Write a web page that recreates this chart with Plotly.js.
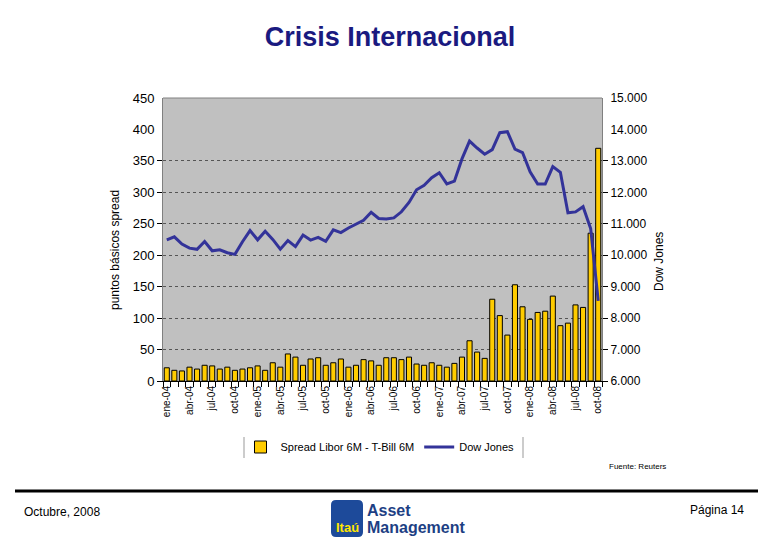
<!DOCTYPE html>
<html><head><meta charset="utf-8">
<script src="https://cdn.plot.ly/plotly-3.0.1.min.js"></script>
<style>html,body{margin:0;padding:0;background:#fff;}#chart{width:780px;height:540px;}</style>
</head><body><div id="chart"></div>
<script>
// Months (categories)
const meses = [
 "ene-04","feb-04","mar-04","abr-04","may-04","jun-04","jul-04","ago-04","sep-04","oct-04","nov-04","dic-04",
 "ene-05","feb-05","mar-05","abr-05","may-05","jun-05","jul-05","ago-05","sep-05","oct-05","nov-05","dic-05",
 "ene-06","feb-06","mar-06","abr-06","may-06","jun-06","jul-06","ago-06","sep-06","oct-06","nov-06","dic-06",
 "ene-07","feb-07","mar-07","abr-07","may-07","jun-07","jul-07","ago-07","sep-07","oct-07","nov-07","dic-07",
 "ene-08","feb-08","mar-08","abr-08","may-08","jun-08","jul-08","ago-08","sep-08","oct-08"
];
// Spread Libor 6M - T-Bill 6M (basis points)
const spread = [
 21,17,16,22,19,25,24,19,22,17,19,21,
 24,17,29,22,43,38,25,35,37,25,29,35,
 22,25,34,32,25,37,37,34,38,27,25,29,
 25,22,28,38,64,46,36,130,104,73,153,118,
 98,109,111,135,88,92,121,117,235,370
];
// Dow Jones
const dowJones = [
 10488,10584,10358,10226,10188,10435,10140,10174,10080,10027,10428,10783,
 10490,10766,10504,10193,10467,10275,10641,10482,10569,10440,10806,10718,
 10865,10993,11109,11367,11168,11150,11186,11381,11679,12081,12221,12463,
 12622,12269,12354,13063,13628,13409,13212,13358,13896,13930,13372,13265,
 12650,12266,12263,12820,12638,11350,11378,11544,10851,8550
];
// Shown x tick labels (every third month)
const xTickText = meses.map((m, i) => (i % 3 === 0 ? m : ""));
const leftGridTicks = [0, 50, 100, 150, 200, 250, 300, 350];
const leftTopTicks = [400, 450];
const rightTicks = [6000, 7000, 8000, 9000, 10000, 11000, 12000, 13000];
const rightTopTicks = [14000, 15000];

// pixel -> paper helpers (plot area 163..602 x, 98..381 y)
const L = 163, R = 602, T = 98, B = 381;
const px = x => (x - L) / (R - L);
const py = y => (B - y) / (B - T);

const FONT = "Liberation Sans, Arial, sans-serif";
const NAVY = "#333399";

const traces = [
  {type: "bar", x: meses, y: spread, name: "Spread Libor 6M - T-Bill 6M",
   marker: {color: "#FFCC00", line: {color: "#000", width: 1}}, yaxis: "y", hoverinfo: "x+y"},
  {type: "scatter", mode: "lines", x: meses, y: dowJones, name: "Dow Jones",
   line: {color: NAVY, width: 3}, yaxis: "y2"},
  {type: "scatter", x: [], y: [], yaxis: "y3", showlegend: false, hoverinfo: "skip"},
  {type: "scatter", x: [], y: [], yaxis: "y4", showlegend: false, hoverinfo: "skip"}
];

// logo rounded square path in paper coords
function roundRect(x0, y0, x1, y1, r) {
  const X = v => px(v).toFixed(5), Y = v => py(v).toFixed(5);
  return `M ${X(x0 + r)},${Y(y0)} L ${X(x1 - r)},${Y(y0)} Q ${X(x1)},${Y(y0)} ${X(x1)},${Y(y0 + r)} ` +
         `L ${X(x1)},${Y(y1 - r)} Q ${X(x1)},${Y(y1)} ${X(x1 - r)},${Y(y1)} L ${X(x0 + r)},${Y(y1)} ` +
         `Q ${X(x0)},${Y(y1)} ${X(x0)},${Y(y1 - r)} L ${X(x0)},${Y(y0 + r)} Q ${X(x0)},${Y(y0)} ${X(x0 + r)},${Y(y0)} Z`;
}

const layout = {
  width: 780, height: 540,
  margin: {l: L, r: 780 - R, t: T, b: 540 - B, pad: 0},
  paper_bgcolor: "#ffffff", plot_bgcolor: "#c0c0c0",
  separators: ",.",
  font: {family: FONT, size: 12, color: "#000"},
  title: {text: "<b>Crisis Internacional</b>", font: {family: FONT, size: 27, color: "#1a1a80"},
          x: 0.5, xref: "container", xanchor: "center", y: 1 - 37 / 540, yref: "container", yanchor: "middle"},
  bargap: 0.33,
  showlegend: true,
  legend: {orientation: "h", x: px(380), xanchor: "center", y: py(447), yanchor: "middle",
           font: {family: FONT, size: 11}, bgcolor: "rgba(0,0,0,0)", itemwidth: 30, traceorder: "normal"},
  xaxis: {type: "category", tickmode: "array", tickvals: meses, ticktext: xTickText,
          tickangle: -90, tickfont: {size: 10}, ticks: "outside", tickson: "boundaries",
          ticklen: 5, tickcolor: "#000", showline: true, linecolor: "#000", linewidth: 1,
          showgrid: false, zeroline: false, range: [-0.5, meses.length - 0.5]},
  yaxis: {range: [0, 450], tickmode: "array", tickvals: leftGridTicks, ticks: "outside", ticklen: 5,
          tickcolor: "#000", showgrid: true, gridcolor: "#555", griddash: "dot", gridwidth: 1,
          zeroline: false, showline: true, linecolor: "#808080", tickfont: {size: 13}},
  yaxis3: {overlaying: "y", side: "left", range: [0, 450], tickmode: "array", tickvals: leftTopTicks,
           ticks: "outside", ticklen: 5, tickcolor: "rgba(0,0,0,0)", showgrid: false, zeroline: false,
           showline: false, tickfont: {size: 13}},
  yaxis2: {overlaying: "y", side: "right", range: [6000, 15000], tickmode: "array", tickvals: rightTicks,
           tickformat: ",d", ticks: "outside", ticklen: 5, tickcolor: "#000", showgrid: false,
           zeroline: false, showline: true, linecolor: "#808080", tickfont: {size: 12}},
  yaxis4: {overlaying: "y", side: "right", range: [6000, 15000], tickmode: "array", tickvals: rightTopTicks,
           tickformat: ",d", ticks: "outside", ticklen: 5, tickcolor: "rgba(0,0,0,0)", showgrid: false,
           zeroline: false, showline: false, tickfont: {size: 12}},
  shapes: [
    {type: "line", xref: "paper", yref: "paper", x0: 0, x1: 1, y0: 1, y1: 1, line: {color: "#808080", width: 1}},
    {type: "line", xref: "paper", yref: "paper", x0: px(244), x1: px(244), y0: py(437), y1: py(458), line: {color: "#999", width: 1}},
    {type: "line", xref: "paper", yref: "paper", x0: px(523), x1: px(523), y0: py(437), y1: py(458), line: {color: "#999", width: 1}},
    {type: "line", xref: "paper", yref: "paper", x0: px(15), x1: px(758), y0: py(491), y1: py(491), line: {color: "#000", width: 3}},
    {type: "path", xref: "paper", yref: "paper", path: roundRect(331, 500, 363, 537, 5),
     fillcolor: "#1d4a9a", line: {width: 0}}
  ],
  annotations: [
    {xref: "paper", yref: "paper", x: px(115), y: py(250), xanchor: "center", yanchor: "middle", textangle: -90,
     text: "puntos básicos spread", showarrow: false, font: {size: 12, family: FONT}},
    {xref: "paper", yref: "paper", x: px(659), y: py(262), xanchor: "center", yanchor: "middle", textangle: -90,
     text: "Dow Jones", showarrow: false, font: {size: 12, family: FONT}},
    {xref: "paper", yref: "paper", x: px(607), y: py(466), xanchor: "left", yanchor: "middle",
     text: "Fuente: Reuters", showarrow: false, font: {size: 8, family: FONT}},
    {xref: "paper", yref: "paper", x: px(22), y: py(512), xanchor: "left", yanchor: "middle",
     text: "Octubre, 2008", showarrow: false, font: {size: 12, family: FONT}},
    {xref: "paper", yref: "paper", x: px(746), y: py(510), xanchor: "right", yanchor: "middle",
     text: "Página 14", showarrow: false, font: {size: 12, family: FONT}},
    {xref: "paper", yref: "paper", x: px(347), y: py(527), xanchor: "center", yanchor: "middle",
     text: "<b>Itaú</b>", showarrow: false, font: {size: 13, family: "Liberation Sans Narrow, " + FONT, color: "#ffe600"}},
    {xref: "paper", yref: "paper", x: px(365), y: py(510), xanchor: "left", yanchor: "middle",
     text: "<b>Asset</b>", showarrow: false, font: {size: 16, family: "Liberation Sans Narrow, " + FONT, color: "#1d3f84"}},
    {xref: "paper", yref: "paper", x: px(365), y: py(527), xanchor: "left", yanchor: "middle",
     text: "<b>Management</b>", showarrow: false, font: {size: 16, family: "Liberation Sans Narrow, " + FONT, color: "#1d3f84"}}
  ]
};

Plotly.newPlot("chart", traces, layout, {staticPlot: true, displayModeBar: false});
</script>
</body></html>
